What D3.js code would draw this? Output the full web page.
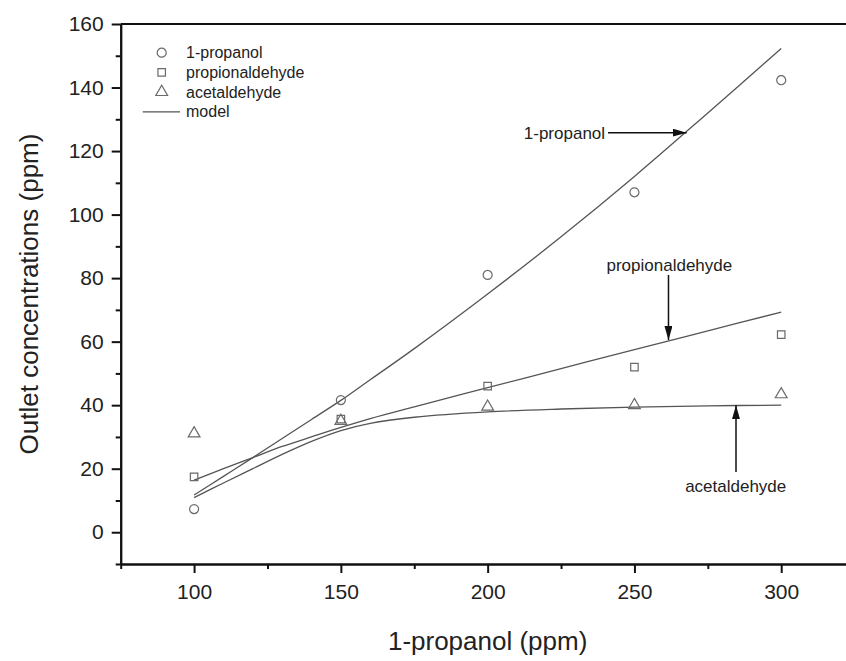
<!DOCTYPE html>
<html lang="en">
<head>
  <meta charset="utf-8">
  <title>Outlet concentrations</title>
  <script src="https://cdn.jsdelivr.net/npm/d3@7"></script>
  <style>
    body { margin: 0; background: #fff; }
    svg { display: block; font-family: "Liberation Sans", Arial, sans-serif; }
  </style>
</head>
<body>
<svg width="846" height="661"></svg>
<script>

// measured points
const feed = [100, 150, 200, 250, 300];
const propanol = [7.3, 41.6, 81, 107, 142.3];
const propionaldehyde = [17.4, 35.6, 46, 52, 62.2];
const acetaldehyde = [31.1, 35, 39.5, 40, 43.4];

// model curves
const modelX = [100, 110, 120, 130, 140, 150, 160, 175, 200, 225, 250, 275, 300];
const propanolModel = [11.7, 17.6, 23.5, 29.5, 35.5, 41.5, 48, 57.8, 75, 93, 112, 132, 152.3];
const propionModel = [16.4, 20, 23.5, 27, 30, 33, 35.8, 39.5, 45.5, 51.5, 57.5, 63.4, 69.3];
const acetModel = [10.9, 15.5, 20, 24.5, 28.6, 32, 34.3, 36.2, 37.9, 38.8, 39.4, 39.8, 40];

const xMajor = [100, 150, 200, 250, 300];
const xMinor = [75, 125, 175, 225, 275];
const yMajor = [0, 20, 40, 60, 80, 100, 120, 140, 160];
const yMinor = [-10, 10, 30, 50, 70, 90, 110, 130, 150];

const legendNames = ["1-propanol", "propionaldehyde", "acetaldehyde", "model"];

// annotation labels (data units)
const notes = [
  {text: "1-propanol", tx: 240, ty: 125.8, anchor: "end", x1: 241, y1: 125.8, x2: 267.8, y2: 125.8},
  {text: "propionaldehyde", tx: 261.9, ty: 84.1, anchor: "middle", x1: 261.6, y1: 81, x2: 261.6, y2: 60.5},
  {text: "acetaldehyde", tx: 284.5, ty: 14.5, anchor: "middle", x1: 284.6, y1: 19, x2: 284.6, y2: 40}
];

const svg = d3.select("svg");
const x = d3.scaleLinear().domain([75, 325]).range([120.7, 854.6]);
const y = d3.scaleLinear().domain([-10, 160]).range([564, 24]);

const ink = "#111";
const lineCol = "#555";
const markCol = "#6a6a6a";

svg.append("defs").append("marker")
  .attr("id", "head")
  .attr("viewBox", "0 0 14 8")
  .attr("refX", 14).attr("refY", 4)
  .attr("markerWidth", 14).attr("markerHeight", 8)
  .attr("markerUnits", "userSpaceOnUse")
  .attr("orient", "auto")
  .append("path").attr("d", "M0,0 L14,4 L0,8 Z").attr("fill", ink);

// axes
function styleAxis(g) {
  g.selectAll("path.domain").attr("stroke", ink).attr("stroke-width", 2);
  g.selectAll(".tick line").attr("stroke", ink).attr("stroke-width", 2);
  g.selectAll(".tick text").attr("fill", "#222").attr("font-size", 21);
}

svg.append("g").attr("transform", "translate(0," + y(-10) + ")")
  .call(d3.axisBottom(x).tickValues(xMinor).tickSize(5).tickFormat("").tickSizeOuter(0))
  .call(styleAxis);
svg.append("g").attr("transform", "translate(0," + y(-10) + ")")
  .call(d3.axisBottom(x).tickValues(xMajor).tickSize(9).tickPadding(11).tickSizeOuter(0))
  .call(styleAxis);

svg.append("g").attr("transform", "translate(" + x(75) + ",0)")
  .call(d3.axisLeft(y).tickValues(yMinor).tickSize(5).tickFormat("").tickSizeOuter(0))
  .call(styleAxis);
svg.append("g").attr("transform", "translate(" + x(75) + ",0)")
  .call(d3.axisLeft(y).tickValues(yMajor).tickSize(9).tickPadding(8).tickSizeOuter(0))
  .call(styleAxis);

// top frame line
svg.append("line")
  .attr("x1", x(75)).attr("x2", 846)
  .attr("y1", y(160)).attr("y2", y(160))
  .attr("stroke", ink).attr("stroke-width", 2);

// axis titles
svg.append("text")
  .attr("x", (x(75) + x(325)) / 2).attr("y", 650)
  .attr("text-anchor", "middle").attr("font-size", 26).attr("fill", "#222")
  .text("1-propanol (ppm)");
svg.append("text")
  .attr("transform", "translate(38," + y(75) + ") rotate(-90)")
  .attr("text-anchor", "middle").attr("font-size", 26).attr("fill", "#222")
  .text("Outlet concentrations (ppm)");

// model lines
const line = d3.line().x(d => x(d[0])).y(d => y(d[1])).curve(d3.curveCatmullRom.alpha(0.5));
[propanolModel, propionModel, acetModel].forEach(m => {
  svg.append("path")
    .datum(modelX.map((v, i) => [v, m[i]]))
    .attr("d", line)
    .attr("fill", "none").attr("stroke", lineCol).attr("stroke-width", 1.3);
});

// markers
const sym = {
  circle: d3.symbol().type(d3.symbolCircle).size(64),
  square: d3.symbol().type(d3.symbolSquare).size(56),
  triangle: d3.symbol().type(d3.symbolTriangle).size(60)
};
function drawMarks(vals, shape) {
  svg.append("g").selectAll("path")
    .data(vals)
    .join("path")
    .attr("transform", (d, i) => "translate(" + x(feed[i]) + "," + y(d) + ")")
    .attr("d", sym[shape])
    .attr("fill", "none").attr("stroke", markCol).attr("stroke-width", 1.2);
}
drawMarks(acetaldehyde, "triangle");
drawMarks(propionaldehyde, "square");
drawMarks(propanol, "circle");

// legend
const legShapes = ["circle", "square", "triangle"];
const leg = svg.append("g").attr("font-size", 16).attr("fill", "#222");
legendNames.forEach((name, i) => {
  const ly = 52.7 + i * 19.7;
  if (i < 3) {
    leg.append("path")
      .attr("transform", "translate(161.7," + ly + ")")
      .attr("d", sym[legShapes[i]])
      .attr("fill", "none").attr("stroke", markCol).attr("stroke-width", 1.2);
  } else {
    leg.append("line")
      .attr("x1", 142.7).attr("x2", 180).attr("y1", ly).attr("y2", ly)
      .attr("stroke", lineCol).attr("stroke-width", 1.3);
  }
  leg.append("text")
    .attr("x", 186).attr("y", ly).attr("dy", "0.35em")
    .text(name);
});

// annotations with arrows
notes.forEach(n => {
  svg.append("line")
    .attr("x1", x(n.x1)).attr("y1", y(n.y1))
    .attr("x2", x(n.x2)).attr("y2", y(n.y2))
    .attr("stroke", ink).attr("stroke-width", 1.5)
    .attr("marker-end", "url(#head)");
  svg.append("text")
    .attr("x", x(n.tx)).attr("y", y(n.ty)).attr("dy", "0.35em")
    .attr("text-anchor", n.anchor)
    .attr("font-size", 17).attr("fill", "#222")
    .text(n.text);
});

</script>
</body>
</html>
